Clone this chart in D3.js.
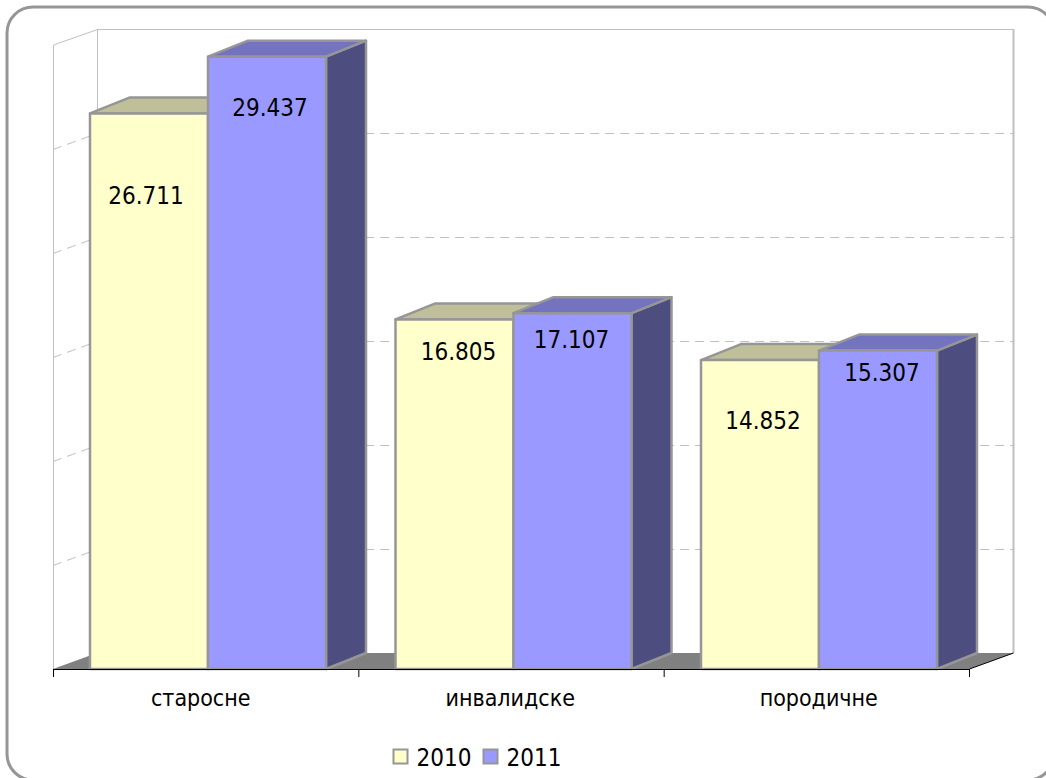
<!DOCTYPE html>
<html lang="sr">
<head>
  <meta charset="UTF-8">
  <title>старосне, инвалидске, породичне</title>
  <script src="https://d3js.org/d3.v7.min.js"></script>
  <style>
    html, body { margin: 0; padding: 0; background: #fff; overflow: hidden; }
    text { font-family: "DejaVu Sans Condensed", "DejaVu Sans", sans-serif; font-stretch: condensed; fill: #000; }
  </style>
</head>
<body>
  <div id="my_dataviz"></div>
  <script>
    // Data
    var categories = ["старосне", "инвалидске", "породичне"];
    var seriesNames = ["2010", "2011"];
    var values2010 = [26711, 16805, 14852];
    var values2011 = [29437, 17107, 15307];
    var gridValues = [0, 5000, 10000, 15000, 20000, 25000, 30000];

    // Hand placed labels, offset from the bar centre and the bar top
    var labelNudge2010 = [[-3, 91], [4, 41], [3, 69]];
    var labelNudge2011 = [[3, 59], [-1, 35], [4, 30]];
    var categoryNudge = [-5, -1, 2];

    var colors = {
      "2010": {front: "#ffffcc", top: "#bfbf99", side: "#80806a"},
      "2011": {front: "#9999ff", top: "#7373bf", side: "#4d4d80"}
    };

    var width = 1046, height = 778;
    var plot = {left: 53, right: 969.5, bottom: 669, top: 45};
    var wall = {dx: 44, dy: -16};   // shift from front plane to back wall
    var depth = {dx: 40, dy: -16};  // bar depth

    var svg = d3.select("#my_dataviz")
      .append("svg")
        .attr("width", width)
        .attr("height", height)
        .style("display", "block");

    // Outer rounded frame, runs off the right and bottom of the image
    svg.append("rect")
      .attr("x", 7).attr("y", 7)
      .attr("width", 1047).attr("height", 773)
      .attr("rx", 26).attr("ry", 26)
      .attr("fill", "#fff")
      .attr("stroke", "#969696")
      .attr("stroke-width", 3);

    var x = d3.scaleBand()
      .domain(categories)
      .range([plot.left, plot.right]);

    var x1 = d3.scaleBand()
      .domain(seriesNames)
      .range([37, 37 + 236]);

    var y = d3.scaleLinear()
      .domain([0, 30000])
      .range([plot.bottom, plot.top]);

    function pts(list) {
      return list.map(function(p) { return p[0] + "," + p[1]; }).join(" ");
    }

    // Walls
    var wallColor = "#c0c0c0";
    svg.append("polyline")
      .attr("points", pts([
        [plot.left + 0.5, y(0)], [plot.left + 0.5, y(30000)],
        [plot.left + wall.dx + 0.5, y(30000) + wall.dy + 0.5],
        [plot.right + wall.dx, y(30000) + wall.dy + 0.5]
      ]))
      .attr("fill", "none")
      .attr("stroke", wallColor);

    svg.append("line")
      .attr("x1", plot.right + wall.dx).attr("x2", plot.right + wall.dx)
      .attr("y1", y(30000) + wall.dy).attr("y2", y(0) + wall.dy)
      .attr("stroke", wallColor)
      .attr("stroke-width", 2);

    svg.append("line")
      .attr("x1", plot.left + wall.dx + 0.5).attr("x2", plot.left + wall.dx + 0.5)
      .attr("y1", y(30000) + wall.dy).attr("y2", y(0) + wall.dy)
      .attr("stroke", wallColor);

    // Dashed gridlines across side wall and back wall
    var grid = gridValues.slice(1, -1);
    svg.selectAll(".grid")
      .data(grid)
      .enter()
      .append("polyline")
        .attr("class", "grid")
        .attr("points", function(d) {
          return pts([
            [plot.left, y(d) + 0.5],
            [plot.left + wall.dx, y(d) + wall.dy + 0.5],
            [plot.right + wall.dx, y(d) + wall.dy + 0.5]
          ]);
        })
        .attr("fill", "none")
        .attr("stroke", wallColor)
        .attr("stroke-dasharray", "9,6");

    // Floor
    svg.append("polygon")
      .attr("points", pts([
        [plot.left, y(0)],
        [plot.left + wall.dx, y(0) + wall.dy],
        [plot.right + wall.dx, y(0) + wall.dy],
        [plot.right, y(0)]
      ]))
      .attr("fill", "#808080");

    // Bars, one group per category
    var rows = categories.map(function(c, i) {
      return [
        {cat: c, name: "2010", value: values2010[i], nudge: labelNudge2010[i]},
        {cat: c, name: "2011", value: values2011[i], nudge: labelNudge2011[i]}
      ];
    });

    var barStroke = "#969696";
    var groups = svg.selectAll(".group")
      .data(rows)
      .enter()
      .append("g")
        .attr("class", "group");

    var bars = groups.selectAll(".bar")
      .data(function(d) { return d; })
      .enter()
      .append("g")
        .attr("class", "bar")
        .attr("stroke", barStroke)
        .attr("stroke-width", 2.5)
        .attr("stroke-linejoin", "round");

    function left(d) { return x(d.cat) + x1(d.name); }
    function right(d) { return left(d) + x1.bandwidth(); }

    bars.append("polygon")
      .attr("fill", function(d) { return colors[d.name].side; })
      .attr("points", function(d) {
        return pts([
          [right(d), y(d.value)],
          [right(d) + depth.dx, y(d.value) + depth.dy],
          [right(d) + depth.dx, y(0) + depth.dy],
          [right(d), y(0)]
        ]);
      });

    bars.append("polygon")
      .attr("fill", function(d) { return colors[d.name].top; })
      .attr("points", function(d) {
        return pts([
          [left(d), y(d.value)],
          [left(d) + depth.dx, y(d.value) + depth.dy],
          [right(d) + depth.dx, y(d.value) + depth.dy],
          [right(d), y(d.value)]
        ]);
      });

    bars.append("rect")
      .attr("fill", function(d) { return colors[d.name].front; })
      .attr("x", left)
      .attr("y", function(d) { return y(d.value); })
      .attr("width", x1.bandwidth())
      .attr("height", function(d) { return y(0) - y(d.value); });

    // Data labels go on top of all the bars
    svg.selectAll(".value")
      .data(rows.flat())
      .enter()
      .append("text")
        .attr("class", "value")
        .attr("x", function(d) { return left(d) + x1.bandwidth() / 2 + d.nudge[0]; })
        .attr("y", function(d) { return y(d.value) + d.nudge[1]; })
        .attr("text-anchor", "middle")
        .style("font-size", "24px")
        .text(function(d) { return d3.format(",")(d.value).replace(",", "."); });

    // Front edge of the floor on the right side
    svg.append("line")
      .attr("x1", plot.right).attr("y1", y(0))
      .attr("x2", plot.right + wall.dx).attr("y2", y(0) + wall.dy)
      .attr("stroke", "#000");

    // Category axis, ticks sit on the band edges
    var tickScale = d3.scaleLinear()
      .domain([0, categories.length])
      .range([plot.left, plot.right - 0.5]);

    svg.append("g")
      .attr("transform", "translate(0," + y(0) + ")")
      .call(d3.axisBottom(tickScale)
        .tickValues(d3.range(categories.length + 1))
        .tickSize(8)
        .tickSizeOuter(0)
        .tickFormat(""))
      .call(function(g) { g.selectAll("path, line").attr("stroke", "#000"); });

    svg.selectAll(".cat")
      .data(categories)
      .enter()
      .append("text")
        .attr("class", "cat")
        .attr("x", function(d, i) { return x(d) + x.bandwidth() / 2 + categoryNudge[i]; })
        .attr("y", 706)
        .attr("text-anchor", "middle")
        .style("font-size", "23px")
        .text(function(d) { return d; });

    // Legend
    var legendX = d3.scalePoint().domain(seriesNames).range([393.5, 483.5]);
    var legend = svg.selectAll(".legend")
      .data(seriesNames)
      .enter()
      .append("g")
        .attr("class", "legend")
        .attr("transform", function(d) { return "translate(" + legendX(d) + ",749.5)"; });

    legend.append("rect")
      .attr("width", 14).attr("height", 14)
      .attr("fill", function(d) { return colors[d].front; })
      .attr("stroke", barStroke)
      .attr("stroke-width", 2);

    legend.append("text")
      .attr("x", 23)
      .attr("y", 16.5)
      .style("font-size", "24px")
      .text(function(d) { return d; });
  </script>
</body>
</html>
